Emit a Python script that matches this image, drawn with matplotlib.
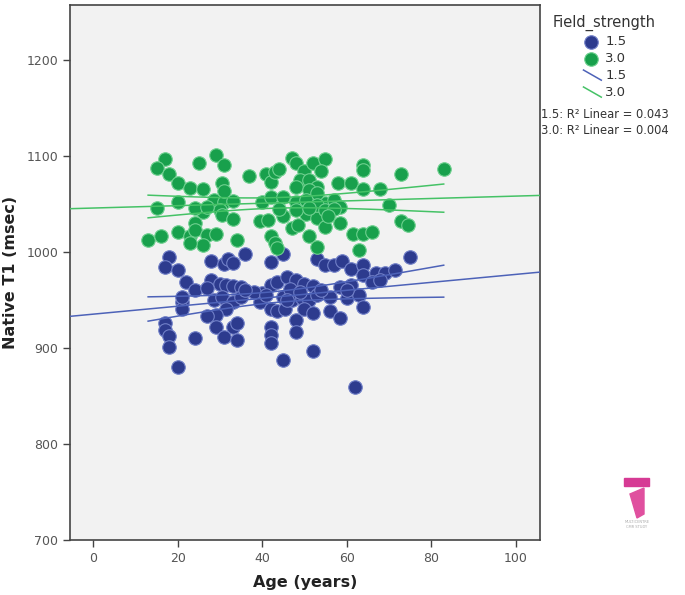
import numpy as np
import matplotlib
matplotlib.use("Agg")
import matplotlib.pyplot as plt
from matplotlib.lines import Line2D
from matplotlib.legend_handler import HandlerBase
from matplotlib.patches import Rectangle, Polygon

# 1.5 T group (age, native T1)
age_15 = [18, 17, 20, 22, 24, 21, 21, 17, 17, 18, 18, 20, 24, 28, 31, 32, 33, 36, 28, 30,
          31.5, 33, 35, 28.5, 30.5, 33, 31.5, 29, 27, 29, 33, 34, 31, 34, 42, 45, 40, 42, 43.5, 46,
          48, 50, 52, 39.5, 42, 43.5, 45.5, 45, 47, 49.5, 51, 53, 50, 52, 48, 48, 42, 42, 42, 45,
          52, 62, 53, 55, 57, 59, 61, 64, 64, 67, 69, 71.5, 75, 66, 61, 58.5, 56, 60, 63, 64,
          56, 58.5, 27, 21, 38, 41, 46.5, 49, 46, 35, 36, 68, 54, 60]
t1_15 = [995, 984, 981, 969, 960, 948, 940, 926, 919, 912, 901, 880, 910, 990, 987, 993, 988, 998, 971, 967,
         966, 964, 963, 950, 953, 948, 941, 934, 933, 922, 922, 926, 911, 908, 989, 998, 957, 966, 969, 974,
         971, 967, 964, 948, 941, 938, 940, 953, 950, 952, 950, 955, 941, 936, 929, 917, 922, 913, 905, 887,
         897, 859, 993, 986, 986, 990, 982, 986, 976, 978, 978, 981, 995, 969, 966, 963, 953, 952, 955, 943,
         938, 931, 962, 953, 958, 955, 961, 958, 950, 953, 960, 971, 960, 960]

# 3.0 T group
age_30 = [17, 15, 18, 20, 23, 26, 25, 29, 31, 37, 41, 42, 43, 44, 47, 48, 50, 52, 55, 54,
          49, 51, 53, 48, 51, 28.5, 31, 33, 30, 30.5, 26, 24, 20, 15, 13, 16, 20, 23, 24, 24,
          27, 29, 26, 23, 33, 34, 39.5, 41.5, 42, 43, 43.5, 45, 47, 48.5, 50.5, 51, 53, 53, 55, 55,
          53, 57, 58.5, 58, 61, 58.5, 61.5, 64, 66, 64, 68, 70, 73, 74.5, 64, 64, 73, 83, 63, 40,
          42, 45, 48, 50.5, 53, 55, 57, 48, 51, 30.5, 31, 55.5, 44, 27]
t1_30 = [1097, 1087, 1081, 1072, 1066, 1065, 1093, 1101, 1090, 1079, 1081, 1073, 1083, 1086, 1098, 1092, 1084, 1093, 1097, 1084,
         1075, 1075, 1068, 1068, 1064, 1054, 1052, 1053, 1044, 1038, 1042, 1046, 1052, 1046, 1012, 1016, 1021, 1016, 1030, 1023,
         1018, 1019, 1007, 1009, 1034, 1012, 1032, 1033, 1016, 1009, 1004, 1037, 1025, 1028, 1039, 1016, 1035, 1005, 1026, 1051,
         1061, 1054, 1047, 1072, 1072, 1030, 1019, 1019, 1021, 1065, 1065, 1049, 1032, 1028, 1090, 1085, 1081, 1086, 1002, 1052,
         1057, 1057, 1052, 1054, 1049, 1044, 1045, 1044, 1046, 1072, 1063, 1037, 1045, 1047]

groups = ["1.5", "3.0"]
r2_labels = ["1.5: R² Linear = 0.043", "3.0: R² Linear = 0.004"]

fill_colors = ["#2d3b8e", "#18a04c"]
edge_colors = ["#7180c8", "#6fd08f"]
line_colors = ["#4d62b8", "#45c266"]


class DiagLine(HandlerBase):
    # SPSS style slanted line symbol in the legend
    def create_artists(self, legend, orig, xd, yd, w, h, fontsize, trans):
        x0, y0 = -xd, -yd
        ln = Line2D([x0 + 0.1 * w, x0 + w], [y0 + h * 1.0, y0 - h * 0.1],
                    color=orig.get_color(), lw=orig.get_linewidth(), transform=trans)
        return [ln]


fig = plt.figure(figsize=(6.85, 5.95), dpi=100)
ax = fig.add_axes([70 / 685, 55 / 595, 470 / 685, 535 / 595])
ax.set_facecolor("#f2f2f2")

xlim = (-5.5, 105.8)
ax.set_xlim(*xlim)
ax.set_ylim(700, 1257)

all_age = np.array(age_15 + age_30)
xs_ci = np.linspace(all_age.min(), all_age.max(), 100)
xs_fit = np.array(xlim)

pt_handles = []
ln_handles = []
for ages, t1, g, fc, ec, lc in zip([age_15, age_30], [t1_15, t1_30], groups,
                                   fill_colors, edge_colors, line_colors):
    x = np.array(ages, float)
    y = np.array(t1, float)
    h = ax.scatter(x, y, s=95, color=fc, edgecolors=ec, linewidths=0.8, zorder=2, label=g)
    pt_handles.append(h)

    # linear fit with 95% mean confidence band
    b, a = np.polyfit(x, y, 1)
    n = len(x)
    resid = y - (a + b * x)
    s = np.sqrt(np.sum(resid ** 2) / (n - 2))
    sxx = np.sum((x - x.mean()) ** 2)
    se = s * np.sqrt(1 / n + (xs_ci - x.mean()) ** 2 / sxx)
    tval = 1.986
    yc = a + b * xs_ci
    ax.plot(xs_fit, a + b * xs_fit, color=lc, lw=1.1, zorder=3)
    ax.plot(xs_ci, yc + tval * se, color=lc, lw=1.1, zorder=3)
    ax.plot(xs_ci, yc - tval * se, color=lc, lw=1.1, zorder=3)
    ln_handles.append(Line2D([0], [0], color=lc, lw=1.1, label=g))

ax.set_xticks([0, 20, 40, 60, 80, 100])
ax.set_yticks([700, 800, 900, 1000, 1100, 1200])
ax.tick_params(direction="out", length=5, width=1, color="#444444",
               labelcolor="#555555", labelsize=9)
for sp in ax.spines.values():
    sp.set_color("#444444")
    sp.set_linewidth(1.2)

ax.set_xlabel("Age (years)", fontsize=11.5, fontweight="bold", color="#222222", labelpad=7)
ax.set_ylabel("Native T1 (msec)", fontsize=11.5, fontweight="bold", color="#222222", labelpad=6)

handler_map = {h: DiagLine() for h in ln_handles}
leg = fig.legend(pt_handles + ln_handles, groups + groups, loc="upper left",
                 bbox_to_anchor=(0.793, 0.99), frameon=False, title="Field_strength",
                 fontsize=9.5, title_fontsize=10.5, handlelength=1.5, handletextpad=0.3,
                 labelspacing=0.3, handler_map=handler_map, borderpad=0.2)
leg.get_title().set_color("#333333")
for t in leg.get_texts():
    t.set_color("#333333")

fig.text(541 / 685, 1 - 115 / 595, r2_labels[0], fontsize=8.3, color="#333333", va="center")
fig.text(541 / 685, 1 - 130 / 595, r2_labels[1], fontsize=8.3, color="#333333", va="center")

# small study logo, bottom right
def px(xp, yp):
    return (xp / 685, 1 - yp / 595)

fig.patches.append(Rectangle(px(624, 486), 25 / 685, 8 / 595, transform=fig.transFigure,
                             color="#d63a94", zorder=5))
fig.patches.append(Polygon([px(630, 494), px(644, 488), px(644, 514), px(637, 518)],
                           closed=True, transform=fig.transFigure, color="#e0509f", zorder=5))
fig.text(637 / 685, 1 - 522 / 595, "MULTICENTRE", fontsize=2.6, color="#aaaaaa",
         ha="center", va="center")
fig.text(637 / 685, 1 - 527 / 595, "CMR STUDY", fontsize=2.6, color="#aaaaaa",
         ha="center", va="center")

fig.savefig("out.png", dpi=100)
